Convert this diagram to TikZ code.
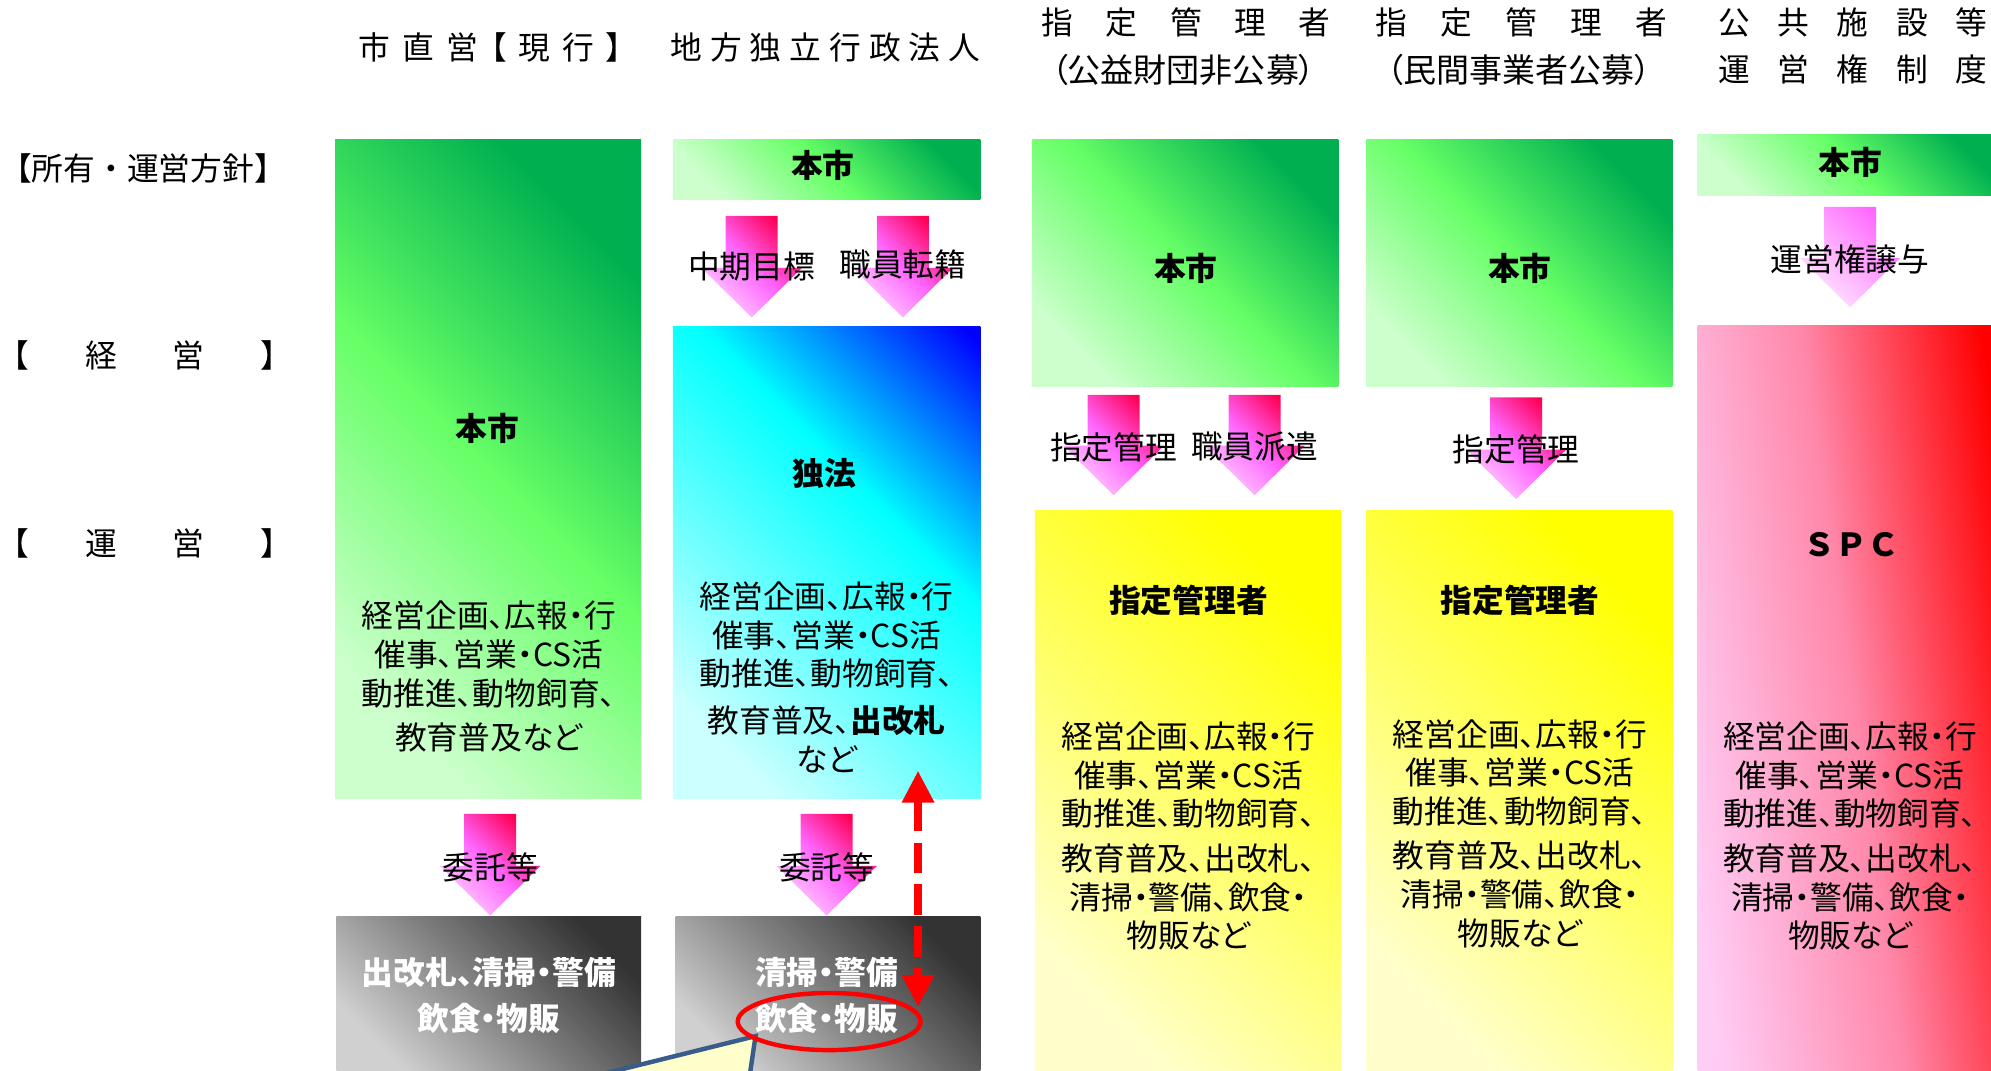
\documentclass[tikz,border=0pt]{standalone}
\usepackage{fontspec}
\setmainfont{Noto Sans CJK JP}[RawFeature=+palt]
\newfontfamily\jpfull{Noto Sans CJK JP}
\usetikzlibrary{arrows.meta,shapes.geometric}
\definecolor{gdark}{HTML}{00B050}
\definecolor{gmid}{HTML}{66FF66}
\definecolor{gpale}{HTML}{CCFFCC}
\definecolor{bdark}{HTML}{0000FF}
\definecolor{bmid}{HTML}{00FFFF}
\definecolor{bpale}{HTML}{CCFFFF}
\definecolor{kdark}{HTML}{333333}
\definecolor{kmid}{HTML}{7F7F7F}
\definecolor{kpale}{HTML}{D0D0D0}
\definecolor{ydark}{HTML}{FFFF00}
\definecolor{ymid}{HTML}{FFFF66}
\definecolor{ypale}{HTML}{FFFFCC}
\definecolor{sdark}{HTML}{FF0000}
\definecolor{smid}{HTML}{FF88AA}
\definecolor{spale}{HTML}{FFCCF5}
\definecolor{adark}{HTML}{FF0055}
\definecolor{amid}{HTML}{FF66FF}
\definecolor{apale}{HTML}{FFCCFF}
\definecolor{ldark}{HTML}{FF66FF}
\definecolor{lmid}{HTML}{FFA8FF}
\definecolor{lpale}{HTML}{FFE6FF}
\definecolor{cyellow}{HTML}{FFFFCC}
\definecolor{cblue}{HTML}{385D8A}
\pgfdeclareverticalshading{blueshade}{100bp}{color(0bp)=(bpale); color(24bp)=(bpale); color(60bp)=(bmid); color(84bp)=(bdark); color(100bp)=(bdark)}
\newcommand\blockarrow[4]{%
  \path[#4] (#1-20.5,-#2) -- (#1+20.5,-#2) -- (#1+20.5,-#3+39) -- (#1+39.5,-#3+39)
    -- (#1,-#3) -- (#1-39.5,-#3+39) -- (#1-20.5,-#3+39) -- cycle;}
\tikzset{
  panel/.style={inner sep=0pt, outer sep=0pt},
  gbox/.style={panel, left color=gpale, right color=gdark, middle color=gmid, shading angle=135},
  bbox/.style={panel, shading=blueshade, shading angle=-45},
  kbox/.style={panel, left color=kpale, right color=kdark, middle color=kmid, shading angle=135},
  ybox/.style={panel, left color=ypale, right color=ydark, middle color=ymid, shading angle=135},
  sbox/.style={panel, left color=spale, right color=sdark, middle color=smid, shading angle=98},
  parrow/.style={left color=apale, right color=adark, middle color=amid, shading angle=135},
  larrow/.style={left color=lpale, right color=ldark, middle color=lmid, shading angle=135},
  txt/.style={inner sep=0pt, align=center, font=\fontsize{25}{30.5}\selectfont},
  ttl/.style={inner sep=0pt, font=\fontsize{25}{30}\selectfont\bfseries},
  wtxt/.style={inner sep=0pt, align=center, text=white, font=\fontsize{25}{36}\selectfont\bfseries},
  hdr/.style={inner sep=0pt, font=\fontsize{25}{30}\selectfont},
}
\begin{document}
\begin{tikzpicture}[x=1pt,y=1pt]
\clip (0,-843) rectangle (1568,0);
\useasboundingbox (0,-843) rectangle (1568,0);

% headers
\node[hdr] (hd1) at (386,-37) {\makebox[208pt]{市\hfill 直\hfill 営\hfill 【\hfill 現\hfill 行\hfill 】}};
\node[hdr] (hd2) at (650,-37) {\makebox[244pt]{地\hfill 方\hfill 独\hfill 立\hfill 行\hfill 政\hfill 法\hfill 人}};
\node[hdr] (hd3a) at (934,-18) {\makebox[228pt]{指\hfill 定\hfill 管\hfill 理\hfill 者}};
\node[hdr, font=\fontsize{26}{30}\selectfont] (hd3b) at (932,-55) {（公益財団非公募）};
\node[hdr] (hd4a) at (1198,-18) {\makebox[230pt]{指\hfill 定\hfill 管\hfill 理\hfill 者}};
\node[hdr, font=\fontsize{26}{30}\selectfont] (hd4b) at (1196,-55) {（民間事業者公募）};
\node[hdr] (hd5a) at (1459,-18) {\makebox[212pt]{公\hfill 共\hfill 施\hfill 設\hfill 等}};
\node[hdr] (hd5b) at (1459,-55) {\makebox[212pt]{運\hfill 営\hfill 権\hfill 制\hfill 度}};

% row labels
\node[hdr, anchor=west] (lb1) at (0,-133) {\jpfull 【所有・運営方針】};
\node[hdr, anchor=west] (lb2) at (-2,-280) {\jpfull\makebox[232pt]{【\hfill 経\hfill 営\hfill 】}};
\node[hdr, anchor=west] (lb3) at (-2,-428) {\jpfull\makebox[232pt]{【\hfill 運\hfill 営\hfill 】}};

% column 1
\node[gbox, minimum width=241pt, minimum height=519pt] (g1) at (384.5,-369.5) {};
\node[kbox, minimum width=240pt, minimum height=121pt] (k1) at (385,-782.5) {};
% column 2
\node[gbox, minimum width=242pt, minimum height=47pt] (h2) at (651,-133.5) {};
\node[bbox, minimum width=242pt, minimum height=372pt] (b2) at (651,-443) {};
\node[kbox, minimum width=240pt, minimum height=121pt] (k2) at (652,-782.5) {};
% column 3
\node[gbox, minimum width=241pt, minimum height=194pt] (g3) at (933.5,-207) {};
\node[ybox, minimum width=241pt, minimum height=441pt] (y3) at (935.5,-622.5) {};
% column 4
\node[gbox, minimum width=241pt, minimum height=194pt] (g4) at (1196.5,-207) {};
\node[ybox, minimum width=241pt, minimum height=441pt] (y4) at (1196.5,-622.5) {};
% column 5
\node[gbox, minimum width=242pt, minimum height=48pt] (h5) at (1458,-130) {};
\node[sbox, minimum width=242pt, minimum height=587pt] (s5) at (1458,-549.5) {};

% block arrows
\blockarrow{386}{641}{721}{parrow}
\blockarrow{592}{170}{250}{parrow}
\blockarrow{711}{170}{250}{parrow}
\blockarrow{651}{641}{721}{parrow}
\blockarrow{877}{311}{390}{parrow}
\blockarrow{988}{311}{390}{parrow}
\blockarrow{1194}{313}{393}{parrow}
\blockarrow{1457}{163}{242}{larrow}

% arrow labels
\node[txt] (al1) at (386,-683) {委託等};
\node[txt] (al2) at (592,-210) {中期目標};
\node[txt] (al3) at (711,-208) {職員転籍};
\node[txt] (al4) at (651,-683) {委託等};
\node[txt] (al5) at (877,-352) {指定管理};
\node[txt] (al6) at (988,-352) {職員派遣};
\node[txt] (al7) at (1194,-354) {指定管理};
\node[txt] (al8) at (1457,-204) {運営権譲与};

% titles
\node[ttl] (t1) at (384,-337) {本市};
\node[ttl] (t2) at (648,-130) {本市};
\node[ttl] (t2b) at (649,-373) {独法};
\node[ttl] (t3) at (934,-211) {本市};
\node[ttl] (t3b) at (936,-473) {指定管理者};
\node[ttl] (t4) at (1197,-211) {本市};
\node[ttl] (t4b) at (1197,-473) {指定管理者};
\node[ttl] (t5) at (1457,-128) {本市};
\node[ttl] (t5b) at (1458,-429) {\jpfull\bfseries ＳＰＣ};

% body texts
\node[txt] (x1) at (385,-533) {経営企画、広報・行\\催事、営業・CS活\\動推進、動物飼育、\\[4.5pt]教育普及など};
\node[txt] (x2) at (651,-533.5) {経営企画、広報・行\\催事、営業・CS活\\動推進、動物飼育、\\[6.5pt]教育普及、\textbf{出改札}\\など};
\node[txt] (x3) at (936,-658.5) {経営企画、広報・行\\催事、営業・CS活\\動推進、動物飼育、\\[4.5pt]教育普及、出改札、\\清掃・警備、飲食・\\物販など};
\node[txt] (x4) at (1197,-656.5) {経営企画、広報・行\\催事、営業・CS活\\動推進、動物飼育、\\[4.5pt]教育普及、出改札、\\清掃・警備、飲食・\\物販など};
\node[txt] (x5) at (1457,-658.5) {経営企画、広報・行\\催事、営業・CS活\\動推進、動物飼育、\\[4.5pt]教育普及、出改札、\\清掃・警備、飲食・\\物販など};

% gray box texts
\node[wtxt] (w1) at (385,-784) {出改札、清掃・警備\\飲食・物販};
\node[wtxt] (w2a) at (651,-766) {清掃・警備};
\node[wtxt] (w2b) at (651,-802) {飲食・物販};

% red dashed double arrow
\coordinate (dtop) at (723,-607);
\coordinate (dbot) at (723,-793);
\draw[red, line width=6pt, dash pattern=on 24pt off 9pt,
  {Triangle[width=24pt,length=25pt]}-{Triangle[width=24pt,length=25pt]}] (dtop) -- (dbot);

% callout pointer
\coordinate (cp) at (595,-816);
\coordinate (cl) at (377,-870);
\coordinate (cr) at (587,-870);
\draw[fill=cyellow, draw=cblue, line width=3.5pt] (cp) -- (cl) -- (cr) -- cycle;

% red ellipse
\node[draw=red, line width=3.5pt, ellipse, minimum width=144pt, minimum height=45pt, inner sep=0pt] (ell) at (653,-804.5) {};
\end{tikzpicture}
\end{document}
